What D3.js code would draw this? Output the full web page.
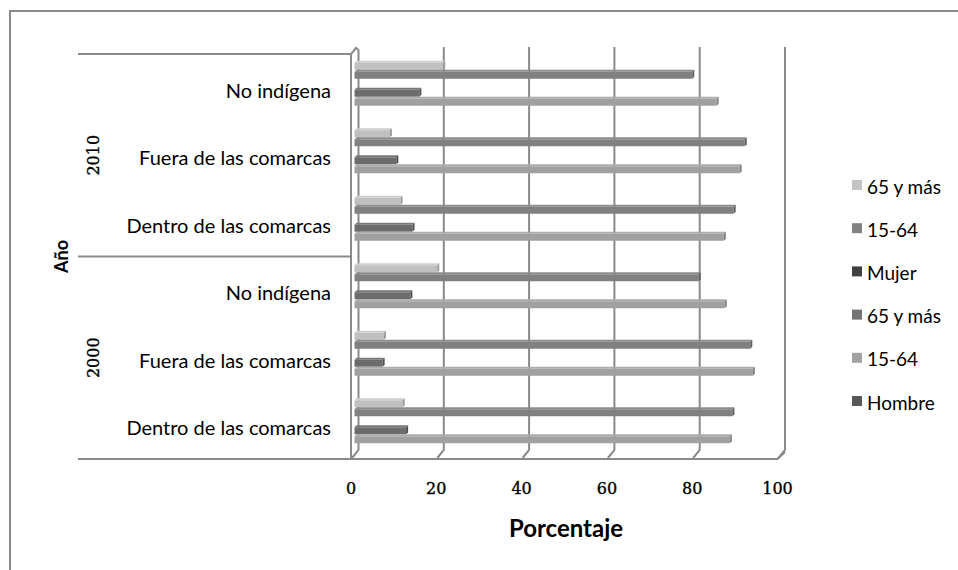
<!DOCTYPE html>
<html>
<head>
<meta charset="utf-8">
<script src="https://cdn.jsdelivr.net/npm/d3@7"></script>
<style>
  html, body { margin: 0; padding: 0; background: #fff; }
  svg { display: block; }
  .lbl { font-family: Lato, "Open Sans", sans-serif; fill: #000; }
  .num { font-family: "DejaVu Serif", serif; fill: #000; stroke: #000; stroke-width: 0.35px; }
</style>
</head>
<body>
<svg id="chart" width="958" height="570"></svg>
<script>
// ---------------- DATA ----------------
const years = ["2000", "2010"];
const areas = ["Dentro de las comarcas", "Fuera de las comarcas", "No indígena"];
// order of values: 2000 Dentro, 2000 Fuera, 2000 No indígena, 2010 Dentro, 2010 Fuera, 2010 No indígena
const mujer65 = [11.3, 6.9, 19.4, 10.8, 8.3, 20.8];
const mujer1564 = [88.6, 92.8, 80.7, 88.9, 91.5, 79.2];
const mujer = [];          // header series, no bars
const hombre65 = [12.1, 6.6, 13.1, 13.6, 9.8, 15.2];
const hombre1564 = [88.0, 93.4, 86.8, 86.6, 90.3, 84.9];
const hombre = [];         // header series, no bars
const seriesNames = ["65 y más", "15-64", "Mujer", "65 y más", "15-64", "Hombre"];
const xTicks = [0, 20, 40, 60, 80, 100];
const xTitle = "Porcentaje";
const yTitle = "Año";

// ---------------- SETUP ----------------
const svg = d3.select("#chart");
const seriesValues = [mujer65, mujer1564, mujer, hombre65, hombre1564, hombre];
const seriesColors = [
  { front: "#c0c0c0", top: "#cecece", end: "#9c9c9c", legend: "#c4c4c4" },
  { front: "#808080", top: "#8c8c8c", end: "#5e5e5e", legend: "#828282" },
  { front: "#404040", top: "#4c4c4c", end: "#2a2a2a", legend: "#404040" },
  { front: "#6c6c6c", top: "#787878", end: "#4e4e4e", legend: "#737373" },
  { front: "#a0a0a0", top: "#acacac", end: "#808080", legend: "#a2a2a2" },
  { front: "#555555", top: "#616161", end: "#3a3a3a", legend: "#575757" }
];

// groups in the order of the data arrays
const groups = [];
years.forEach(y => areas.forEach(a => groups.push({ year: y, area: a, key: y + "|" + a })));
// top-to-bottom display order
const displayKeys = groups.map(g => g.key).slice().reverse();

const plotTop = 54, plotBottom = 459;
const x = d3.scaleLinear().domain([0, 100]).range([354.5, 781]);
const backDx = 4, backDy = -7;     // offset of back wall from bar plane
const frontDx = -3.5;              // offset of floor front edge

const y = d3.scaleBand().domain(displayKeys).range([plotTop, plotBottom])
  .paddingInner(0.2).paddingOuter(0.1);
const ys = d3.scaleBand().domain(d3.range(seriesNames.length)).range([0, y.bandwidth()]);

const gridColor = "#8a8a8a";

// outer frame (left + top)
svg.append("path").attr("d", "M10,570 V11 H958")
  .attr("fill", "none").attr("stroke", gridColor).attr("stroke-width", 2);

// ---------------- BACK WALL GRID ----------------
const floorBackY = plotBottom + backDy;
const gTop = plotTop + backDy;
const grid = svg.append("g");
xTicks.forEach(v => {
  const xb = x(v) + backDx, xf = x(v) + frontDx;
  if (v === 0) return;
  grid.append("path")
    .attr("d", `M${xb},${gTop} V${floorBackY - 2} L${xf + 1},${plotBottom - 1}`)
    .attr("fill", "none").attr("stroke", gridColor).attr("stroke-width", 2);
});

// left wall
const xw = x(0) + frontDx;
svg.append("path")
  .attr("d", `M${xw},${plotBottom} V${plotTop} L${xw + 5},${plotTop - 6} L${x(0) + backDx},${plotTop - 4} V${floorBackY - 2} L${xw + 1},${plotBottom - 1}`)
  .attr("fill", "none").attr("stroke", gridColor).attr("stroke-width", 2);

// floor front line + group separator lines
svg.append("path")
  .attr("d", `M78,${plotBottom} H${x(100) + frontDx} L${x(100) + backDx},${floorBackY}`)
  .attr("fill", "none").attr("stroke", gridColor).attr("stroke-width", 2);
[plotTop, (plotTop + plotBottom) / 2].forEach(yy => {
  svg.append("line").attr("x1", 78).attr("x2", xw).attr("y1", yy).attr("y2", yy)
    .attr("stroke", gridColor).attr("stroke-width", 2);
});

// ---------------- BARS ----------------
const dd = 2;
const bars = svg.append("g");
seriesValues.forEach((vals, si) => {
  const c = seriesColors[si];
  vals.forEach((v, gi) => {
    if (v == null) return;
    const key = groups[gi].key;
    const y0 = y(key) + ys(si);
    const h = ys.bandwidth();
    const x0 = x(0), x1 = x(v);
    const g = bars.append("g");
    // front face
    g.append("rect").attr("x", x0).attr("y", y0 + dd).attr("width", x1 - x0).attr("height", h - dd)
      .attr("fill", c.front);
    // top face
    g.append("path").attr("d", `M${x0},${y0 + dd} L${x1},${y0 + dd} L${x1 + dd},${y0} L${x0 + dd},${y0} Z`)
      .attr("fill", c.top);
    // end face
    g.append("path").attr("d", `M${x1},${y0 + dd} L${x1 + dd},${y0} L${x1 + dd},${y0 + h - dd} L${x1},${y0 + h} Z`)
      .attr("fill", c.end);
  });
});

// ---------------- AXES TEXT ----------------
// x tick labels
xTicks.forEach(v => {
  svg.append("text").attr("class", "num")
    .attr("x", x(v) + frontDx).attr("y", 488)
    .attr("text-anchor", "middle").attr("dominant-baseline", "central")
    .attr("font-size", 16).text(v);
});
svg.append("text").attr("class", "lbl")
  .attr("x", 566).attr("y", 527).attr("text-anchor", "middle").attr("dominant-baseline", "central")
  .attr("font-size", 24).attr("font-weight", "bold").text(xTitle);

// category labels
groups.forEach(g => {
  svg.append("text").attr("class", "lbl")
    .attr("x", 331).attr("y", y(g.key) + y.bandwidth() / 2 + 2)
    .attr("text-anchor", "end").attr("dominant-baseline", "central")
    .attr("font-size", 20).text(g.area);
});
// year labels
years.forEach(yr => {
  const keys = groups.filter(g => g.year === yr).map(g => g.key);
  const ext = d3.extent(keys.map(k => y(k) + y.bandwidth() / 2));
  const cy = (ext[0] + ext[1]) / 2;
  svg.append("text").attr("class", "num")
    .attr("transform", `translate(93,${cy}) rotate(-90)`)
    .attr("text-anchor", "middle").attr("dominant-baseline", "central")
    .attr("font-size", 16).text(yr);
});
svg.append("text").attr("class", "lbl")
  .attr("transform", `translate(61,${(plotTop + plotBottom) / 2}) rotate(-90)`)
  .attr("text-anchor", "middle").attr("dominant-baseline", "central")
  .attr("font-size", 18).attr("font-weight", "bold").text(yTitle);

// ---------------- LEGEND ----------------
const legend = svg.append("g");
seriesNames.forEach((name, i) => {
  const cy = 185 + i * 43.2;
  legend.append("rect").attr("x", 852).attr("y", cy - 5).attr("width", 10).attr("height", 10)
    .attr("fill", seriesColors[i].legend);
  legend.append("text").attr("class", "lbl")
    .attr("x", 867).attr("y", cy + 1).attr("dominant-baseline", "central")
    .attr("font-size", 19).text(name);
});
</script>
</body>
</html>
